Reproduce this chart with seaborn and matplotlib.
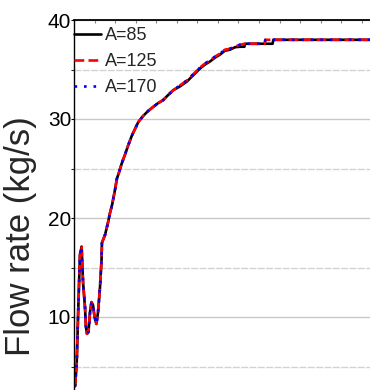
import matplotlib
matplotlib.use("Agg")
import matplotlib.pyplot as plt
from matplotlib import font_manager
from matplotlib.ticker import MultipleLocator, FixedLocator
import seaborn as sns
import pandas as pd

# ---- data (time in s, flow rate in kg/s) ----
time_a85 = [0.5, 1.3, 2.1, 2.9, 3.7, 4.4, 5.35, 5.8, 6.3, 7.05, 7.8, 8.5, 9.25, 10.0,
            10.9, 11.7, 12.65, 13.4, 13.6, 15.1, 16.5, 17.5, 18.5, 19.9, 20.9, 21.9,
            23.2, 24.8, 26.3, 28.1, 29.7, 31.3, 33.6, 36.0, 38.4, 40.9, 43.3, 45.7,
            48.2, 51.6, 55.0, 57.9, 61.3, 63.7, 66.1, 68.6, 71.0, 73.4, 75.9, 78.3,
            80.7, 82.9, 83.2, 96.6, 97.0, 120.0, 150.0, 180.0]
flow_a85 = [3.0, 5.2, 11.0, 16.3, 17.1, 13.5, 11.0, 9.0, 8.3, 8.5, 10.5, 11.5, 11.2, 10.0,
            9.3, 10.5, 13.0, 15.8, 17.5, 18.3, 19.5, 20.5, 21.3, 22.8, 24.0, 24.6,
            25.5, 26.4, 27.3, 28.3, 29.0, 29.7, 30.3, 30.8, 31.2, 31.6, 31.9, 32.4,
            32.9, 33.3, 33.8, 34.4, 35.1, 35.5, 35.8, 36.2, 36.5, 36.9, 37.0, 37.25,
            37.3, 37.3, 37.6, 37.6, 38.0, 38.0, 38.0, 38.0]

time_a125 = [0.5, 1.3, 2.1, 2.9, 3.7, 4.4, 5.35, 5.8, 6.3, 7.05, 7.8, 8.5, 9.25, 10.0,
             10.9, 11.7, 12.65, 13.4, 13.6, 15.1, 16.5, 17.5, 18.5, 19.9, 20.9, 21.9,
             23.2, 24.8, 26.3, 28.1, 29.7, 31.3, 33.6, 36.0, 38.4, 40.9, 43.3, 45.7,
             48.2, 51.6, 55.0, 57.9, 61.3, 63.7, 66.1, 68.6, 71.0, 73.4, 75.9, 78.3,
             80.7, 83.2, 92.7, 93.1, 120.0, 150.0, 180.0]
flow_a125 = [3.0, 5.2, 11.0, 16.3, 17.1, 13.5, 11.0, 9.0, 8.3, 8.5, 10.5, 11.5, 11.2, 10.0,
             9.3, 10.5, 13.0, 15.8, 17.5, 18.3, 19.5, 20.5, 21.3, 22.8, 24.0, 24.6,
             25.5, 26.4, 27.3, 28.3, 29.0, 29.7, 30.3, 30.8, 31.2, 31.6, 31.9, 32.4,
             32.9, 33.4, 33.9, 34.5, 35.2, 35.6, 35.9, 36.3, 36.6, 37.0, 37.1, 37.3,
             37.5, 37.6, 37.6, 38.0, 38.0, 38.0, 38.0]

time_a170 = list(time_a125)
flow_a170 = list(flow_a125)

labels = ["A=85", "A=125", "A=170"]
y_ticks = [10, 20, 30, 40]

# ---- style ----
sns.set_style("white")
names = {f.name for f in font_manager.fontManager.ttflist}
narrow = "Liberation Sans Narrow" in names
tick_family = ["Liberation Sans Narrow", "DejaVu Sans"] if narrow else ["Liberation Sans", "DejaVu Sans"]
tick_size = 17 if narrow else 15
leg_size = 15 if narrow else 13
plt.rcParams["font.family"] = ["Liberation Sans", "DejaVu Sans"]

fig = plt.figure(figsize=(3.7, 3.9), dpi=100)
W, H = 370, 390
ax = fig.add_axes([74 / W, 1 - 416 / H, 370 / W, 396 / H])

ax.yaxis.grid(True, which="major", color="#c8c8c8", lw=1.0, ls="-")
ax.yaxis.grid(True, which="minor", color="#d2d2d2", lw=1.0, ls=(0, (5, 1)))
ax.set_axisbelow(True)

series = [(time_a85, flow_a85, "black", "-"),
          (time_a125, flow_a125, "red", "--"),
          (time_a170, flow_a170, "blue", (0, (1, 2.6)))]
for (t, f, c, ls), lab in zip(series, labels):
    df = pd.DataFrame({"t": t, "flow": f})
    sns.lineplot(data=df, x="t", y="flow", ax=ax, color=c, lw=1.9, linestyle=ls,
                 label=lab, estimator=None, sort=False)

ax.set_xlim(0, 180)
ax.set_ylim(0, 40)
ax.yaxis.set_major_locator(FixedLocator(y_ticks))
ax.yaxis.set_minor_locator(MultipleLocator(5))
ax.xaxis.set_major_locator(MultipleLocator(10))
ax.set_xlabel("")
ax.set_ylabel("")

for s in ["left", "top"]:
    ax.spines[s].set_visible(True)
    ax.spines[s].set_color("black")
ax.spines["left"].set_linewidth(1.0)
ax.spines["top"].set_linewidth(1.3)

ax.tick_params(axis="y", which="major", left=True, direction="out", length=2.5,
               width=0.8, pad=-0.5, labelsize=tick_size, colors="black")
ax.tick_params(axis="y", which="minor", left=True, direction="out", length=2.5, width=0.8)
ax.tick_params(axis="x", which="major", top=True, bottom=False, labeltop=False,
               labelbottom=False, direction="in", length=2, width=0.8, color="#808080")
for lbl in ax.get_yticklabels():
    lbl.set_family(tick_family)

leg = ax.legend(loc="upper left", bbox_to_anchor=(74 / W, 1 - 27 / H),
                bbox_transform=fig.transFigure, frameon=False, borderpad=0,
                borderaxespad=0, handlelength=1.5, handletextpad=0.2,
                labelspacing=0.5, prop={"family": tick_family, "size": leg_size})

fig.text(21 / W, 1 - 236 / H, "Flow rate (kg/s)", rotation=90, ha="center", va="center",
         fontsize=25, family=["Liberation Sans", "DejaVu Sans"])

fig.savefig("out.png", dpi=100)
